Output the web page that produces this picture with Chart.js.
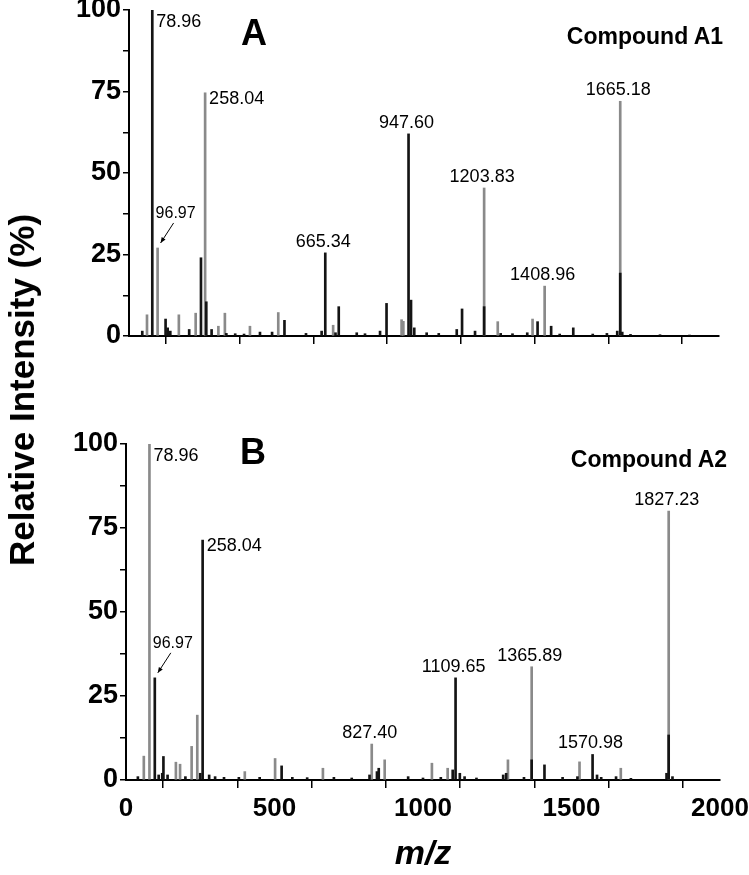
<!DOCTYPE html>
<html>
<head>
<meta charset="utf-8">
<script src="https://cdn.jsdelivr.net/npm/chart.js@4"></script>
<style>
  body { margin: 0; background: #fff; width: 749px; height: 875px; overflow: hidden; position: relative;
         font-family: "Liberation Sans", Arial, sans-serif; color: #000; }
  #boxA { position: absolute; left: 0; top: -10px; width: 749px; height: 370px; }
  #boxB { position: absolute; left: 0; top: 420px; width: 758px; height: 455px; }
  .ytitle { position: absolute; left: 22px; top: 390px; transform: translate(-50%, -50%) rotate(-90deg);
            font-weight: bold; font-size: 35px; white-space: nowrap; }
  .panel { position: absolute; font-weight: bold; font-size: 36px; transform: translate(-50%, -50%); }
  .cmpd { position: absolute; font-weight: bold; font-size: 23px; transform: translate(-50%, -50%); white-space: nowrap; }
</style>
</head>
<body>
<div id="boxA"><canvas id="chartA"></canvas></div>
<div id="boxB"><canvas id="chartB"></canvas></div>
<div class="ytitle">Relative Intensity (%)</div>
<div class="panel" style="left:254px;top:33px">A</div>
<div class="panel" style="left:253px;top:452px">B</div>
<div class="cmpd" style="left:645px;top:36px">Compound A1</div>
<div class="cmpd" style="left:649px;top:459px">Compound A2</div>
<script>
// Compound A1 - dark sticks (m/z, relative intensity %)
const mzA_dark  = [78.96, 124, 131, 244, 262, 527, 665.34, 711, 873, 947.60, 956, 967, 1129, 1203.83, 1385, 1506, 1665.18,
                   45, 140, 204, 280, 330, 360, 390, 444, 485, 600, 653, 700, 772, 800, 851, 1009, 1050, 1111, 1173,
                   1260, 1300, 1350, 1431, 1460, 1572, 1620, 1655, 1672, 1700, 1800, 1900];
const intA_dark = [100, 5.2, 2.5, 24, 10.5, 4.8, 25.5, 9, 10, 62, 11, 2.5, 8.3, 9, 4.4, 2.5, 19.3,
                   1.5, 1.5, 2, 2, 0.8, 0.7, 0.6, 1.2, 1.2, 0.8, 1.5, 1, 1, 0.7, 1.5, 1, 0.8, 2, 1.5,
                   0.8, 0.7, 1, 3, 0.6, 0.6, 0.8, 1.5, 1.2, 0.5, 0.4, 0.3];
// Compound A1 - light sticks
const mzA_light  = [61, 96.97, 169, 226, 258.04, 303, 325, 410, 506, 692, 924, 930, 1203.83, 1250, 1368, 1408.96, 1665.18];
const intA_light = [6.5, 27, 6.5, 7, 74.6, 3, 7, 3, 7.2, 3.3, 5, 4.5, 45.4, 4.4, 5.2, 15.3, 72];

// Compound A2 - dark sticks
const mzB_dark  = [96.97, 122, 126, 258.04, 524, 851, 1109.65, 1124, 1365.89, 1409, 1570.98, 1586, 1827.23,
                   40, 110, 140, 200, 250, 280, 300, 330, 380, 450, 560, 610, 700, 760, 820, 845, 950, 1000,
                   1060, 1100, 1140, 1180, 1270, 1280, 1340, 1470, 1520, 1600, 1650, 1700, 1820, 1840];
const intB_dark = [30.4, 2, 7, 71.4, 4.2, 3.5, 30.4, 2, 6, 4.5, 7.6, 1.5, 13.4,
                   1, 1.5, 1.5, 1, 2, 1.5, 1, 0.8, 0.8, 0.8, 0.8, 0.7, 0.8, 0.6, 1.5, 2.5, 1, 0.6,
                   0.8, 3, 1, 0.6, 1.5, 2, 0.8, 0.8, 1, 0.8, 1, 0.5, 2, 1];
// Compound A2 - light sticks
const mzB_light  = [60, 78.96, 168, 182, 221, 240, 400, 502, 663, 827.40, 871, 1030, 1083, 1286, 1365.89, 1527, 1666, 1827.23];
const intB_light = [7.1, 100, 5.3, 4.7, 10, 19.3, 2.5, 6.4, 3.5, 10.7, 6, 5, 3.5, 6, 33.7, 5.4, 3.5, 80];

// annotated peaks
const labelsA = [78.96, 96.97, 258.04, 665.34, 947.60, 1203.83, 1408.96, 1665.18];
const labelsB = [78.96, 96.97, 258.04, 827.40, 1109.65, 1365.89, 1570.98, 1827.23];

// axis ticks
const xTickLabels = [0, 500, 1000, 1500, 2000];
const yTickLabels = [0, 25, 50, 75, 100];

function toPoints(mz, inten) {
  return mz.map((m, i) => ({ x: m, y: inten[i] }));
}

function heightAt(chart, mz) {
  let h = 0;
  chart.data.datasets.forEach(ds => {
    ds.data.forEach(p => { if (Math.abs(p.x - mz) < 0.01 && p.y > h) h = p.y; });
  });
  return h;
}

const peakLabels = {
  id: 'peakLabels',
  afterDatasetsDraw(chart, args, opts) {
    const ctx = chart.ctx, xs = chart.scales.x, ys = chart.scales.y;
    ctx.save();
    ctx.fillStyle = '#000';
    ctx.strokeStyle = '#000';
    opts.peaks.forEach((mz, i) => {
      const px = xs.getPixelForValue(mz);
      const py = ys.getPixelForValue(heightAt(chart, mz));
      const text = mz.toFixed(2);
      const mode = opts.modes[i];
      if (mode === 'right') {
        ctx.font = '18px "Liberation Sans", Arial, sans-serif';
        ctx.textAlign = 'left';
        ctx.textBaseline = 'top';
        ctx.fillText(text, px + 4, Math.max(py - 3, chart.chartArea.top + 3));
      } else if (mode === 'arrow') {
        ctx.font = '16px "Liberation Sans", Arial, sans-serif';
        ctx.textAlign = 'center';
        ctx.textBaseline = 'middle';
        ctx.fillText(text, px + 18, py - 34);
        const x1 = px + 16, y1 = py - 25, x2 = px + 3, y2 = py - 5;
        ctx.lineWidth = 1;
        ctx.beginPath(); ctx.moveTo(x1, y1); ctx.lineTo(x2, y2); ctx.stroke();
        const a = Math.atan2(y2 - y1, x2 - x1);
        ctx.beginPath();
        ctx.moveTo(x2, y2);
        ctx.lineTo(x2 - 6 * Math.cos(a - 0.4), y2 - 6 * Math.sin(a - 0.4));
        ctx.lineTo(x2 - 6 * Math.cos(a + 0.4), y2 - 6 * Math.sin(a + 0.4));
        ctx.closePath(); ctx.fill();
      } else {
        ctx.font = '18px "Liberation Sans", Arial, sans-serif';
        ctx.textAlign = 'center';
        ctx.textBaseline = 'alphabetic';
        ctx.fillText(text, px - 2, py - 6);
      }
    });
    ctx.restore();
  }
};

function makeChart(id, dark, light, peaks, modes, opt) {
  const ctx = document.getElementById(id).getContext('2d');
  return new Chart(ctx, {
    type: 'bar',
    data: {
      datasets: [
        { label: 'dark', data: dark, backgroundColor: '#141414', barThickness: 2, grouped: false },
        { label: 'light', data: light, backgroundColor: '#8a8a8a', barThickness: 2, grouped: false }
      ]
    },
    options: {
      responsive: true,
      maintainAspectRatio: false,
      animation: false,
      layout: { padding: { top: opt.padTop, right: opt.padRight, left: 0, bottom: 0 } },
      plugins: {
        legend: { display: false },
        tooltip: { enabled: false },
        peakLabels: { peaks: peaks, modes: modes }
      },
      scales: {
        x: {
          type: 'linear',
          min: 0, max: 2000,
          offset: false,
          afterFit: a => { a.height = opt.xHeight; },
          grid: { drawOnChartArea: false, drawTicks: true, tickLength: 8, color: '#000', lineWidth: 1.5 },
          border: { display: true, color: '#000', width: 2 },
          ticks: {
            stepSize: 250, autoSkip: false, maxRotation: 0, padding: 5, color: '#000',
            font: { family: '"Liberation Sans", Arial, sans-serif', size: 26, weight: 'bold' },
            callback: v => (opt.xLabels && xTickLabels.includes(v)) ? v : ''
          },
          title: {
            display: opt.xLabels, text: 'm/z', color: '#000', padding: { top: 0, bottom: 0 },
            font: { family: '"Liberation Sans", Arial, sans-serif', size: 34, weight: 'bold', style: 'italic' }
          }
        },
        y: {
          min: 0, max: 100,
          afterFit: a => { a.width = opt.yWidth; },
          grid: { drawOnChartArea: false, drawTicks: true, tickLength: 6, color: '#000', lineWidth: 1.5 },
          border: { display: true, color: '#000', width: 2 },
          ticks: {
            stepSize: 12.5, autoSkip: false, padding: 2, color: '#000',
            font: { family: '"Liberation Sans", Arial, sans-serif', size: 27, weight: 'bold' },
            callback: v => yTickLabels.includes(v) ? v : ''
          }
        }
      }
    },
    plugins: [peakLabels]
  });
}

makeChart('chartA', toPoints(mzA_dark, intA_dark), toPoints(mzA_light, intA_light), labelsA,
  ['right', 'arrow', 'right', 'above', 'above', 'above', 'above', 'above'],
  { padTop: 20, padRight: 30, xHeight: 24, yWidth: 129, xLabels: false });

makeChart('chartB', toPoints(mzB_dark, intB_dark), toPoints(mzB_light, intB_light), labelsB,
  ['right', 'arrow', 'right', 'above', 'above', 'above', 'above', 'above'],
  { padTop: 24, padRight: 38, xHeight: 95, yWidth: 126, xLabels: true });
</script>
</body>
</html>
